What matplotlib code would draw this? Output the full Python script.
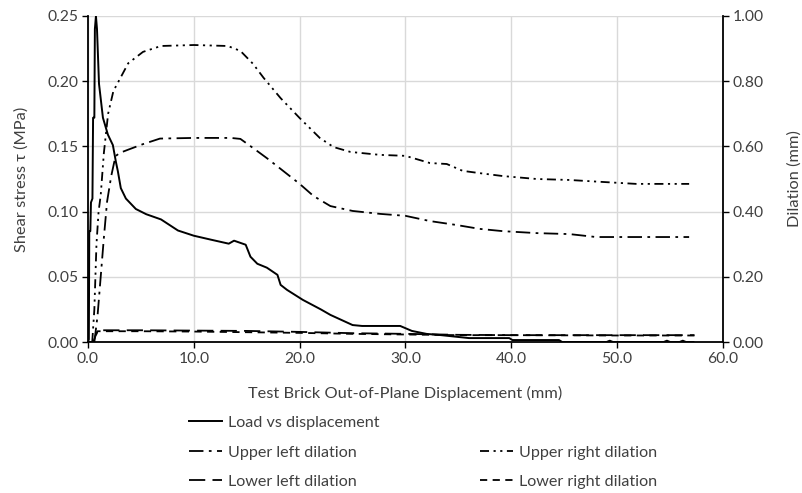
import matplotlib
matplotlib.use("Agg")
import matplotlib.pyplot as plt
from matplotlib.lines import Line2D
from matplotlib.ticker import FormatStrFormatter, MultipleLocator

plt.rcParams['font.family'] = ['Lato', 'DejaVu Sans']

# ---- data ----
load_x = [0, 0.08, 0.12, 0.22, 0.28, 0.42, 0.48, 0.6, 0.65, 0.75, 0.85, 1.04, 1.41, 1.88,
          2.35, 2.64, 2.82, 3.1, 3.58, 4.52, 5.5, 6.9, 8.5, 10.0, 11.6, 13.3, 13.8, 14.9,
          15.35, 16.0, 16.9, 17.9, 18.2, 18.8, 20.3, 22.0, 22.9, 25.0, 25.9, 29.5, 30.6,
          32.0, 33.2, 36.0, 39.8, 40.1, 44.5, 44.8, 49.0, 49.3, 49.6, 54.4, 54.7, 55.0,
          55.9, 56.2, 56.5, 57.2]
load_y = [0, 0.002, 0.085, 0.085, 0.107, 0.11, 0.172, 0.172, 0.24, 0.25, 0.24, 0.198, 0.172,
          0.159, 0.151, 0.138, 0.131, 0.118, 0.11, 0.102, 0.098, 0.094, 0.0855, 0.0815,
          0.0785, 0.0754, 0.0777, 0.0746, 0.0654, 0.060, 0.057, 0.0515, 0.0438, 0.040,
          0.0323, 0.025, 0.0208, 0.013, 0.0123, 0.0123, 0.0085, 0.0062, 0.0054, 0.003,
          0.003, 0.0015, 0.0015, 0.0, 0.0, 0.001, 0.0, 0.0, 0.001, 0.0, 0.0, 0.001, 0.0, 0.0]

ul_x = [0.6, 0.9, 1.2, 1.5, 1.8, 2.2, 2.6, 3.0, 3.8, 5.2, 6.8, 10.0, 13.5, 14.4, 15.6, 16.9,
        18.2, 20.0, 21.3, 22.9, 25.0, 27.6, 30.0, 32.3, 34.8, 37.0, 39.2, 42.4, 45.5, 48.0,
        51.8, 56.8]
ul_y = [0.0, 0.08, 0.2, 0.32, 0.43, 0.51, 0.57, 0.58, 0.59, 0.607, 0.624, 0.626, 0.626,
        0.623, 0.595, 0.564, 0.531, 0.485, 0.448, 0.417, 0.402, 0.393, 0.387, 0.371, 0.359,
        0.347, 0.34, 0.334, 0.331, 0.322, 0.322, 0.322]

ur_x = [0.4, 0.6, 0.8, 1.0, 1.2, 1.5, 1.9, 2.4, 2.8, 3.8, 5.2, 6.9, 10.0, 13.2, 14.4, 15.6,
        16.6, 18.2, 20.0, 21.9, 23.2, 24.8, 27.6, 30.0, 32.3, 33.9, 35.4, 37.0, 39.2, 42.4,
        45.5, 48.6, 51.8, 56.8]
ur_y = [0.0, 0.1, 0.3, 0.4, 0.45, 0.58, 0.7, 0.77, 0.794, 0.855, 0.89, 0.908, 0.911, 0.908,
        0.893, 0.853, 0.81, 0.748, 0.687, 0.626, 0.598, 0.583, 0.574, 0.571, 0.549, 0.546,
        0.525, 0.518, 0.509, 0.50, 0.497, 0.491, 0.485, 0.485]

ll_x = [0, 0.5, 0.9, 5, 10, 15, 20, 25, 30, 35, 40, 50, 57.3]
ll_y = [0, 0.0, 0.036, 0.036, 0.035, 0.034, 0.031, 0.027, 0.025, 0.022, 0.021, 0.021, 0.021]

lr_x = [0, 0.5, 0.9, 5, 10, 15, 20, 25, 30, 35, 40, 50, 57.3]
lr_y = [0, 0.0, 0.033, 0.033, 0.032, 0.030, 0.028, 0.025, 0.023, 0.021, 0.021, 0.020, 0.020]

x_ticks = [0, 10, 20, 30, 40, 50, 60]
labels = ["Load vs displacement", "Upper left dilation", "Upper right dilation",
          "Lower left dilation", "Lower right dilation"]
xlabel = "Test Brick Out-of-Plane Displacement (mm)"
ylabel_left = "Shear stress τ (MPa)"
ylabel_right = "Dilation (mm)"

# ---- styles ----
ls_ul = (0, (8, 3, 1.5, 3))
ls_ur = (0, (5, 2.5, 1.2, 2.5, 1.2, 2.5))
ls_ll = (0, (9, 4))
ls_lr = (0, (4, 3))
TXT = '#404040'
DPI = 100

fig = plt.figure(figsize=(8.03, 4.93), dpi=DPI)
renderer = fig.canvas.get_renderer()


def fit_size(s, target_px):
    t = fig.text(0, 0, s, fontsize=10)
    w = t.get_window_extent(renderer).width
    t.remove()
    return 10 * target_px / w


fs_title = fit_size(xlabel, 313)
fs_tick = fit_size("0.25", 31)
fs_leg = fit_size(labels[0], 152)

L, R, T, B = 88, 723, 16, 342
W, H = 803, 493
ax = fig.add_axes([L / W, 1 - B / H, (R - L) / W, (B - T) / H])
ax2 = ax.twinx()

ax.set_xlim(0, 60)
ax.set_ylim(0, 0.25)
ax2.set_ylim(0, 1.0)
ax.set_xticks(x_ticks)
ax.yaxis.set_major_locator(MultipleLocator(0.05))
ax2.yaxis.set_major_locator(MultipleLocator(0.2))
ax.xaxis.set_major_formatter(FormatStrFormatter('%.1f'))
ax.yaxis.set_major_formatter(FormatStrFormatter('%.2f'))
ax2.yaxis.set_major_formatter(FormatStrFormatter('%.2f'))

ax.grid(True, color='#d9d9d9', linewidth=1.0)
ax.set_axisbelow(True)

for a in (ax, ax2):
    for s in a.spines.values():
        s.set_visible(False)
ax.spines['left'].set_visible(True)
ax.spines['bottom'].set_visible(True)
ax2.spines['right'].set_visible(True)
for s in (ax.spines['left'], ax.spines['bottom'], ax2.spines['right']):
    s.set_color('black')
    s.set_linewidth(1.3)

ax.tick_params(axis='both', direction='out', length=4, width=1, color='black',
               labelsize=fs_tick, labelcolor=TXT, pad=3)
ax2.tick_params(axis='y', direction='out', length=4, width=1, color='black',
                labelsize=fs_tick, labelcolor=TXT, pad=3)

l0, = ax.plot(load_x, load_y, color='black', lw=1.4, solid_joinstyle='round')
l1, = ax2.plot(ul_x, ul_y, color='black', lw=1.3, linestyle=ls_ul)
l2, = ax2.plot(ur_x, ur_y, color='black', lw=1.3, linestyle=ls_ur)
l3, = ax2.plot(ll_x, ll_y, color='black', lw=1.3, linestyle=ls_ll)
l4, = ax2.plot(lr_x, lr_y, color='black', lw=1.3, linestyle=ls_lr)
ax2.set_zorder(ax.get_zorder() + 1)
ax2.patch.set_visible(False)

ax.set_xlabel(xlabel, fontsize=fs_title, color=TXT)
ax.xaxis.set_label_coords(0.5, -(393 - B) / (B - T))
ax.xaxis.label.set_va('center')
ax.set_ylabel(ylabel_left, fontsize=fs_title, color=TXT)
ax.yaxis.set_label_coords((22 - L) / (R - L), 0.5)
ax.yaxis.label.set_va('center')
ax2.set_ylabel(ylabel_right, fontsize=fs_title, color=TXT, rotation=90)
ax2.yaxis.set_label_coords((795 - L) / (R - L), 0.5)
ax2.yaxis.label.set_va('center')

# ---- legend (two columns, first row has one entry) ----
fs_px = fs_leg * DPI / 72
blank = Line2D([], [], linestyle='none')
handles = [l0, l1, l3, blank, l2, l4]
labs = [labels[0], labels[1], labels[3], "", labels[2], labels[4]]
w_load = fit_size(labels[0], 1)  # placeholder to keep call pattern simple
t = fig.text(0, 0, labels[0], fontsize=fs_leg)
w_col1 = t.get_window_extent(renderer).width
t.remove()
col1_text_x = 228
col2_handle_x = 480
handle_px = 33
pad_px = 6
leg_kw = dict(ncol=2, loc='upper left', frameon=False, fontsize=fs_leg,
              handlelength=handle_px / fs_px, handletextpad=pad_px / fs_px,
              columnspacing=(col2_handle_x - (col1_text_x + w_col1)) / fs_px,
              labelspacing=0.9, borderaxespad=0, borderpad=0)
leg = fig.legend(handles, labs, bbox_to_anchor=((col1_text_x - pad_px - handle_px) / W, 1 - 415 / H),
                 **leg_kw)
for tx in leg.get_texts():
    tx.set_color(TXT)

# adjust legend so rows sit at target y positions
fig.canvas.draw()
texts = leg.get_texts()
ys = [H - (tx.get_window_extent(renderer).y0 + tx.get_window_extent(renderer).y1) / 2 for tx in texts]
row_gap = ys[1] - ys[0]
target_gap = 29.5
leg.remove()
leg_kw['labelspacing'] = 0.9 + (target_gap - row_gap) / fs_px
leg = fig.legend(handles, labs, bbox_to_anchor=((col1_text_x - pad_px - handle_px) / W, 1 - 415 / H),
                 **leg_kw)
for tx in leg.get_texts():
    tx.set_color(TXT)
fig.canvas.draw()
e = leg.get_texts()[0].get_window_extent(renderer)
y0 = H - (e.y0 + e.y1) / 2
x0 = e.x0
leg.set_bbox_to_anchor(((col1_text_x - pad_px - handle_px + (col1_text_x - x0)) / W,
                        1 - (415 + (423 - y0)) / H), transform=fig.transFigure)

fig.savefig("out.png", dpi=DPI)
